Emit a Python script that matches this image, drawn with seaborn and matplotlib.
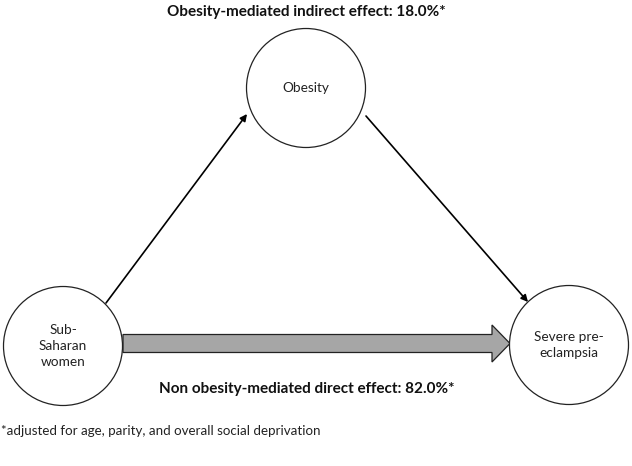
import matplotlib
matplotlib.use("Agg")
import matplotlib.pyplot as plt
from matplotlib.patches import Circle, FancyArrow
import seaborn as sns

# --- data ---
nodes = ["Sub-\nSaharan\nwomen", "Obesity", "Severe pre-\neclampsia"]
effect_labels = ["Obesity-mediated indirect effect", "Non obesity-mediated direct effect"]
effect_pct = [18.0, 82.0]
footnote = "*adjusted for age, parity, and overall social deprivation"

sns.set_theme(style="white")
plt.rcParams['font.family'] = ['Lato', 'DejaVu Sans']

W, H = 632, 466
fig = plt.figure(figsize=(W / 100, H / 100), dpi=100)
ax = fig.add_axes([0, 0, 1, 1])
ax.set_xlim(0, W)
ax.set_ylim(H, 0)
ax.set_aspect('equal')
ax.axis('off')

centers = [(63, 346), (306, 88), (569, 345)]
r = 59.5
for (cx, cy), lab in zip(centers, nodes):
    ax.add_patch(Circle((cx, cy), r, facecolor='white', edgecolor='#222222', lw=0.9, zorder=2))
    ax.text(cx, cy, lab, ha='center', va='center', fontsize=9.8, color='#222222',
            linespacing=1.4, zorder=3)

# thin arrows
ax.annotate('', xy=(247, 114), xytext=(106, 303),
            arrowprops=dict(arrowstyle='-|>', lw=1.2, color='black', mutation_scale=10,
                            shrinkA=0, shrinkB=0))
ax.annotate('', xy=(528, 302), xytext=(366, 116),
            arrowprops=dict(arrowstyle='-|>', lw=1.2, color='black', mutation_scale=10,
                            shrinkA=0, shrinkB=0))

# block arrow (direct effect)
ax.add_patch(FancyArrow(123, 343.5, 387, 0, width=18, head_width=37, head_length=18,
                        length_includes_head=True, facecolor='#a6a6a6', edgecolor='#222222',
                        lw=0.9, zorder=1))

ax.text(306, 12, f"{effect_labels[0]}: {effect_pct[0]:.1f}%*", ha='center', va='center',
        fontsize=11, fontweight='bold', color='#111111')
ax.text(307, 389, f"{effect_labels[1]}: {effect_pct[1]:.1f}%*", ha='center', va='center',
        fontsize=11, fontweight='bold', color='#111111')
ax.text(1, 431, footnote, ha='left', va='center', fontsize=9.6, color='#222222')

fig.savefig('out.png', dpi=100)
